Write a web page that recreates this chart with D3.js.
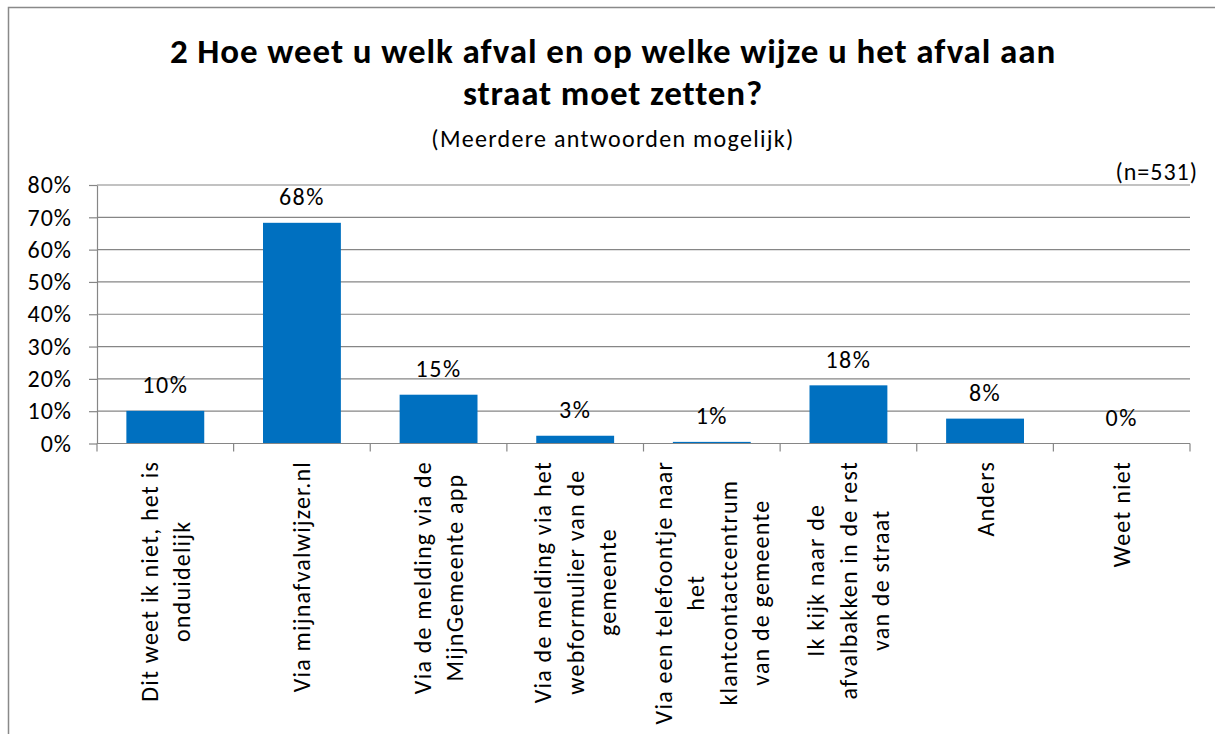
<!DOCTYPE html>
<html lang="nl">
<head>
  <meta charset="UTF-8" />
  <title>Hoe weet u welk afval</title>
  <script src="https://d3js.org/d3.v7.min.js"></script>
  <style>
    body { margin: 0; background: #fff; }
    svg { display: block; }
    svg text { font-family: Carlito, Lato, "Open Sans", sans-serif; fill: #000; }
    .grid line { stroke: #868686; stroke-width: 1.2px; }
    .axis path, .axis line { stroke: #868686; stroke-width: 1.2px; }
  </style>
</head>
<body>
  <svg width="1215" height="734"></svg>
  <script>
    // category labels (already split into lines, like the excel chart)
    const categories = [
      ["Dit weet ik niet, het is", "onduidelijk"],
      ["Via mijnafvalwijzer.nl"],
      ["Via de melding via de", "MijnGemeente app"],
      ["Via de melding via het", "webformulier van de", "gemeente"],
      ["Via een telefoontje naar", "het", "klantcontactcentrum", "van de gemeente"],
      ["Ik kijk naar de", "afvalbakken in de rest", "van de straat"],
      ["Anders"],
      ["Weet niet"]
    ];
    const values = [10.1, 68.3, 15.1, 2.4, 0.5, 18.0, 7.7, 0];
    const valueLabels = ["10%", "68%", "15%", "3%", "1%", "18%", "8%", "0%"];
    const yTicks = [0, 10, 20, 30, 40, 50, 60, 70, 80];

    const titleLines = ["2 Hoe weet u welk afval en op welke wijze u het afval aan", "straat moet zetten?"];
    const subtitle = "(Meerdere antwoorden mogelijk)";
    const nLabel = "(n=531)";

    const svg = d3.select("svg");
    const margin = { left: 97, right: 1190, top: 185, bottom: 443.5 };

    // outer chart border
    svg.append("rect")
      .attr("x", 8.5).attr("y", 7.5)
      .attr("width", 1215).attr("height", 740)
      .attr("fill", "none").attr("stroke", "#898989").attr("stroke-width", 1.5);

    const x = d3.scaleBand()
      .domain(d3.range(categories.length))
      .range([margin.left, margin.right])
      .paddingInner(0.43).paddingOuter(0.215);

    const step = (margin.right - margin.left) / categories.length;

    const y = d3.scaleLinear()
      .domain([0, 80])
      .range([margin.bottom, margin.top]);

    // gridlines
    svg.append("g").attr("class", "grid")
      .selectAll("line")
      .data(yTicks.filter(d => d > 0))
      .enter().append("line")
      .attr("x1", margin.left).attr("x2", margin.right)
      .attr("y1", d => y(d)).attr("y2", d => y(d));

    // y axis
    const yAxis = svg.append("g").attr("class", "axis")
      .attr("transform", `translate(${margin.left},0)`)
      .call(d3.axisLeft(y).tickValues(yTicks).tickSize(8).tickSizeOuter(0).tickFormat(d => d + "%"));
    yAxis.attr("font-family", null).attr("font-size", null);
    yAxis.selectAll("text")
      .attr("x", -25)
      .style("font-size", "24px")
      .style("letter-spacing", "1px");

    // bars
    svg.append("g")
      .selectAll("rect")
      .data(values)
      .enter().append("rect")
      .attr("x", (d, i) => x(i))
      .attr("width", x.bandwidth())
      .attr("y", d => y(d))
      .attr("height", d => y(0) - y(d))
      .attr("fill", "#0070C0");

    // x axis line + ticks at category boundaries
    const xa = svg.append("g").attr("class", "axis");
    xa.append("line")
      .attr("x1", margin.left).attr("x2", margin.right)
      .attr("y1", y(0)).attr("y2", y(0));
    xa.selectAll("line.tick")
      .data(d3.range(categories.length + 1))
      .enter().append("line")
      .attr("class", "tick")
      .attr("x1", i => margin.left + i * step).attr("x2", i => margin.left + i * step)
      .attr("y1", y(0)).attr("y2", y(0) + 8);

    // value labels
    svg.append("g")
      .selectAll("text")
      .data(values)
      .enter().append("text")
      .attr("x", (d, i) => x(i) + x.bandwidth() / 2)
      .attr("y", d => y(d) - 26)
      .attr("text-anchor", "middle")
      .attr("dominant-baseline", "central")
      .style("font-size", "24px")
      .style("letter-spacing", "1.5px")
      .text((d, i) => valueLabels[i]);

    // rotated category labels
    const lineGap = 32.5;
    categories.forEach((lines, i) => {
      const cx = margin.left + (i + 0.5) * step;
      const g = svg.append("g");
      const texts = lines.map((t, j) => g.append("text")
        .attr("text-anchor", "middle")
        .attr("dominant-baseline", "central")
        .style("font-size", "24px")
        .style("letter-spacing", "1.2px")
        .text(t));
      const maxW = d3.max(texts, t => t.node().getComputedTextLength());
      const cy = 461 + maxW / 2;
      texts.forEach((t, j) => {
        const lx = cx + (j - (lines.length - 1) / 2) * lineGap;
        t.attr("transform", `translate(${lx},${cy}) rotate(-90)`);
      });
    });

    // title
    svg.append("text")
      .attr("x", 613).attr("y", 63)
      .attr("text-anchor", "middle")
      .style("font-size", "35px").style("font-weight", "bold")
      .style("letter-spacing", "0.9px")
      .text(titleLines[0]);
    svg.append("text")
      .attr("x", 613).attr("y", 105)
      .attr("text-anchor", "middle")
      .style("font-size", "35px").style("font-weight", "bold")
      .style("letter-spacing", "0.9px")
      .text(titleLines[1]);
    svg.append("text")
      .attr("x", 613).attr("y", 147)
      .attr("text-anchor", "middle")
      .style("font-size", "24px")
      .style("letter-spacing", "1.3px")
      .text(subtitle);
    svg.append("text")
      .attr("x", 1198).attr("y", 180)
      .attr("text-anchor", "end")
      .style("font-size", "24px")
      .style("letter-spacing", "1px")
      .text(nLabel);
  </script>
</body>
</html>
